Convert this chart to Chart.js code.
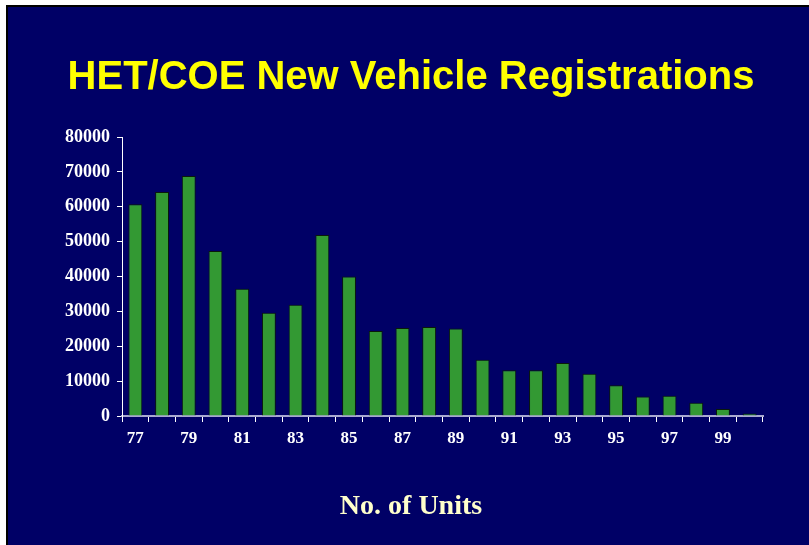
<!DOCTYPE html>
<html>
<head>
<meta charset="utf-8">
<script src="https://cdn.jsdelivr.net/npm/chart.js@4"></script>
<style>
  html, body { margin: 0; padding: 0; background: #ffffff; }
  #frame {
    position: absolute; left: 6px; top: 5px;
    width: 801px; height: 538px;
    border-left: 2px solid #000; border-top: 2px solid #000;
    background: #000066;
  }
  #chart { display: block; }
</style>
</head>
<body>
<div id="frame"><canvas id="chart" width="801" height="538"></canvas></div>
<script>
// Years (two digit) and registrations per year
const years = ['77','78','79','80','81','82','83','84','85','86','87','88',
               '89','90','91','92','93','94','95','96','97','98','99','00'];
const registrations = [60700, 64200, 68800, 47300, 36500, 29600, 31900, 51900, 40000, 24400, 25200, 25500,
                       25100, 16100, 13100, 13100, 15200, 12100, 8800, 5600, 5800, 3800, 2000, 700];
const yTicks = [0, 10000, 20000, 30000, 40000, 50000, 60000, 70000, 80000];

const serif = '"Liberation Serif", "Times New Roman", serif';

new Chart(document.getElementById('chart').getContext('2d'), {
    type: 'bar',
    data: {
        labels: years,
        datasets: [{
            label: 'Registrations',
            data: registrations,
            backgroundColor: '#339933',
            borderColor: '#0a1a0a',
            borderWidth: 1,
            categoryPercentage: 1,
            barPercentage: 0.52
        }]
    },
    options: {
        responsive: false,
        animation: false,
        // left/right padding keep the titles centred on the slide, not the plot
        layout: { padding: { left: 51, right: 46, top: 0, bottom: 0 } },
        plugins: {
            legend: { display: false },
            tooltip: { enabled: false },
            title: {
                display: true,
                text: 'HET/COE New Vehicle Registrations',
                color: '#ffff00',
                font: { family: '"Liberation Sans", Arial, sans-serif', size: 40, weight: 'bold', lineHeight: 1.2 },
                padding: { top: 47, bottom: 35 }
            },
            subtitle: {
                display: true,
                position: 'bottom',
                text: 'No. of Units',
                color: '#ffffcc',
                font: { family: serif, size: 28, weight: 'bold', lineHeight: 1.2 },
                padding: { top: 36, bottom: 21 }
            }
        },
        scales: {
            x: {
                grid: {
                    offset: true,
                    drawOnChartArea: false,
                    tickLength: 6,
                    color: '#ffffff'
                },
                border: { color: '#a8a8d0', width: 2 },
                ticks: {
                    autoSkip: false,
                    maxRotation: 0,
                    padding: 6,
                    color: '#ffffff',
                    font: { family: serif, size: 17, weight: 'bold' },
                    callback: function (val, i) { return i % 2 === 0 ? this.getLabelForValue(val) : ''; }
                }
            },
            y: {
                min: 0,
                max: 80000,
                afterFit: (scale) => { scale.width = 63; },
                afterBuildTicks: (scale) => { scale.ticks = yTicks.map(v => ({ value: v })); },
                grid: {
                    drawOnChartArea: false,
                    tickLength: 5,
                    color: '#ffffff'
                },
                border: { color: '#ffffff', width: 1 },
                ticks: {
                    padding: 7,
                    color: '#ffffff',
                    font: { family: serif, size: 18, weight: 'bold' },
                    callback: (v) => String(v)
                }
            }
        }
    }
});
</script>
</body>
</html>
